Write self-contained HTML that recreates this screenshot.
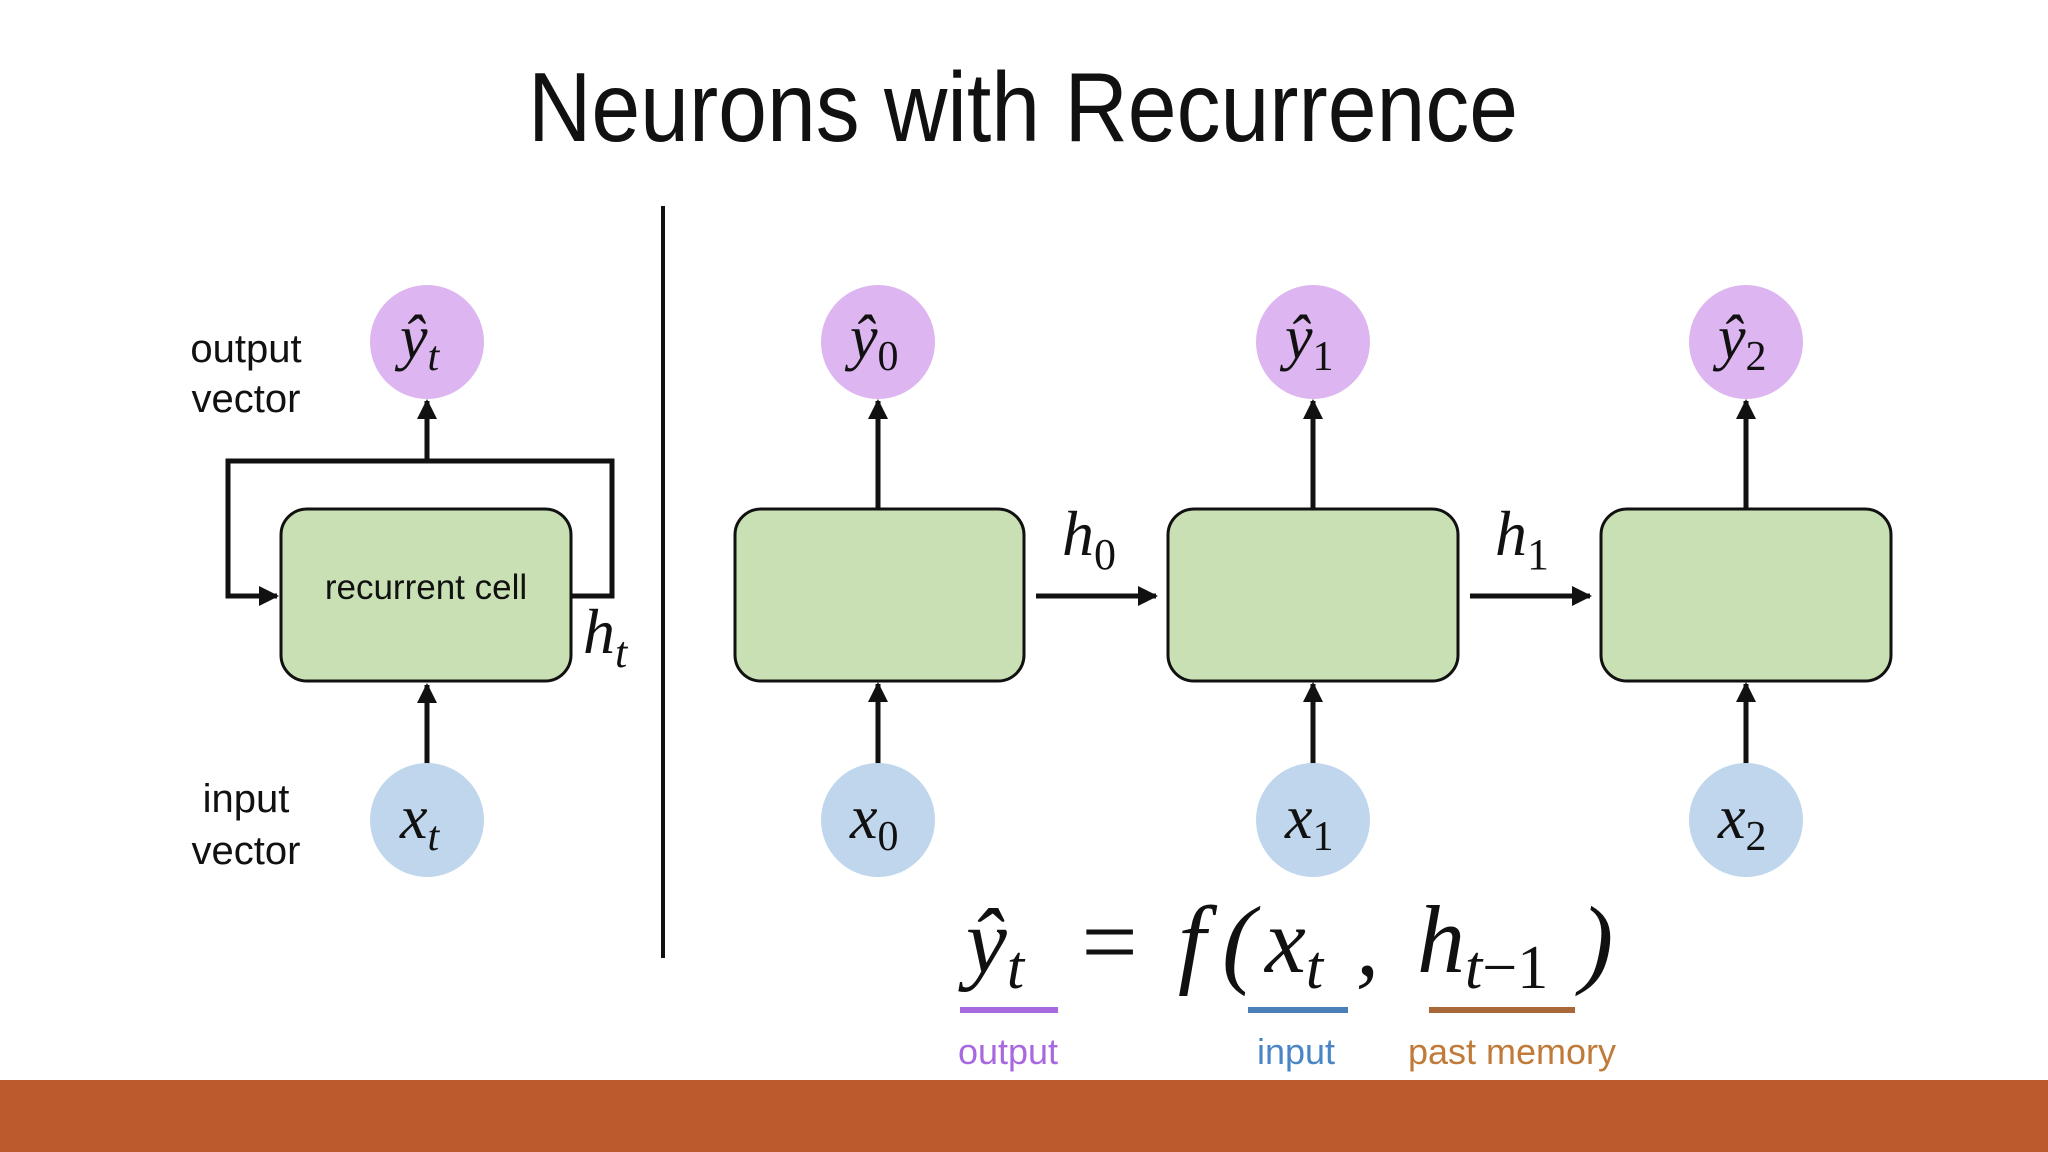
<!DOCTYPE html>
<html><head><meta charset="utf-8"><style>
html,body{margin:0;padding:0;background:#fff;}
svg{display:block;}
.m{font-family:"Liberation Serif",serif;font-style:italic;fill:#111;}
.s{font-family:"Liberation Sans",sans-serif;fill:#111;}
</style></head><body>
<svg width="2048" height="1152" viewBox="0 0 2048 1152" xmlns="http://www.w3.org/2000/svg">
<defs>
<marker id="b" viewBox="0 0 10 10" refX="9" refY="5" markerWidth="4" markerHeight="4" orient="auto"><path d="M0,0 L10,5 L0,10 z" fill="#111"/></marker>
</defs>
<rect width="2048" height="1152" fill="#fff"/>
<rect x="0" y="1080" width="2048" height="72" fill="#BC5A2E"/>
<text x="1023" y="141" text-anchor="middle" class="s" font-size="98" textLength="990" lengthAdjust="spacingAndGlyphs">Neurons with Recurrence</text>
<line x1="663" y1="206" x2="663" y2="958" stroke="#111" stroke-width="4"/>

<!-- left -->
<text x="246" y="362" text-anchor="middle" class="s" font-size="40">output</text>
<text x="246" y="412" text-anchor="middle" class="s" font-size="40">vector</text>
<text x="246" y="812" text-anchor="middle" class="s" font-size="40">input</text>
<text x="246" y="864" text-anchor="middle" class="s" font-size="40">vector</text>
<path d="M572,596 H612 V461 H228 V596 H277" fill="none" stroke="#111" stroke-width="5" marker-end="url(#b)"/>
<line x1="427" y1="463" x2="427" y2="401" stroke="#111" stroke-width="5" marker-end="url(#b)"/>
<line x1="427" y1="765" x2="427" y2="685" stroke="#111" stroke-width="5" marker-end="url(#b)"/>
<rect x="281" y="509" width="290" height="172" rx="26" fill="#C9E0B5" stroke="#111" stroke-width="3"/>
<text x="426" y="599" text-anchor="middle" class="s" font-size="35">recurrent cell</text>
<text x="583" y="653" class="m" font-size="64">h<tspan font-size="44" dy="14">t</tspan></text>
<circle cx="427" cy="342" r="57" fill="#DDB5F0"/>
<circle cx="427" cy="820" r="57" fill="#BFD6EC"/>
<text x="400" y="358" class="m" font-size="62">ŷ<tspan font-size="42" dy="12">t</tspan></text>
<text x="400" y="838" class="m" font-size="62">x<tspan font-size="42" dy="12">t</tspan></text>

<!-- right chain -->
<g stroke="#111" stroke-width="5">
<line x1="878" y1="509" x2="878" y2="401" marker-end="url(#b)"/>
<line x1="1313" y1="509" x2="1313" y2="401" marker-end="url(#b)"/>
<line x1="1746" y1="509" x2="1746" y2="401" marker-end="url(#b)"/>
<line x1="878" y1="765" x2="878" y2="684" marker-end="url(#b)"/>
<line x1="1313" y1="765" x2="1313" y2="684" marker-end="url(#b)"/>
<line x1="1746" y1="765" x2="1746" y2="684" marker-end="url(#b)"/>
<line x1="1036" y1="596" x2="1156" y2="596" marker-end="url(#b)"/>
<line x1="1470" y1="596" x2="1590" y2="596" marker-end="url(#b)"/>
</g>
<rect x="735" y="509" width="289" height="172" rx="26" fill="#C9E0B5" stroke="#111" stroke-width="3"/>
<rect x="1168" y="509" width="290" height="172" rx="26" fill="#C9E0B5" stroke="#111" stroke-width="3"/>
<rect x="1601" y="509" width="290" height="172" rx="26" fill="#C9E0B5" stroke="#111" stroke-width="3"/>
<text x="1062" y="555" class="m" font-size="64">h<tspan font-style="normal" font-size="44" dy="14">0</tspan></text>
<text x="1495" y="555" class="m" font-size="64">h<tspan font-style="normal" font-size="44" dy="14">1</tspan></text>
<circle cx="878" cy="342" r="57" fill="#DDB5F0"/>
<circle cx="1313" cy="342" r="57" fill="#DDB5F0"/>
<circle cx="1746" cy="342" r="57" fill="#DDB5F0"/>
<circle cx="878" cy="820" r="57" fill="#BFD6EC"/>
<circle cx="1313" cy="820" r="57" fill="#BFD6EC"/>
<circle cx="1746" cy="820" r="57" fill="#BFD6EC"/>
<text x="850" y="358" class="m" font-size="62">ŷ<tspan font-style="normal" font-size="42" dy="12">0</tspan></text>
<text x="1285" y="358" class="m" font-size="62">ŷ<tspan font-style="normal" font-size="42" dy="12">1</tspan></text>
<text x="1718" y="358" class="m" font-size="62">ŷ<tspan font-style="normal" font-size="42" dy="12">2</tspan></text>
<text x="850" y="838" class="m" font-size="62">x<tspan font-style="normal" font-size="42" dy="12">0</tspan></text>
<text x="1285" y="838" class="m" font-size="62">x<tspan font-style="normal" font-size="42" dy="12">1</tspan></text>
<text x="1718" y="838" class="m" font-size="62">x<tspan font-style="normal" font-size="42" dy="12">2</tspan></text>

<!-- equation -->
<text x="966" y="972" class="m" font-size="92">ŷ<tspan font-size="62" dy="16">t</tspan></text>
<text x="1075" y="975" class="m" font-size="100" font-style="normal">=</text>
<text x="1178" y="975" class="m" font-size="100">f</text>
<text x="1222" y="975" class="m" font-size="100" font-style="normal">(</text>
<text x="1265" y="972" class="m" font-size="92">x<tspan font-size="62" dy="16">t</tspan></text>
<text x="1356" y="975" class="m" font-size="92" font-style="normal">,</text>
<text x="1417" y="972" class="m" font-size="96">h<tspan font-size="62" dy="16">t</tspan><tspan font-style="normal" font-size="62">−1</tspan></text>
<text x="1580" y="975" class="m" font-size="100" font-style="normal">)</text>
<rect x="960" y="1007" width="98" height="6" fill="#A868E0"/>
<rect x="1248" y="1007" width="100" height="6" fill="#4A7FB8"/>
<rect x="1429" y="1007" width="146" height="6" fill="#A8683A"/>
<text x="1008" y="1064" text-anchor="middle" class="s" font-size="36" style="fill:#A868E0">output</text>
<text x="1296" y="1064" text-anchor="middle" class="s" font-size="36" style="fill:#4A86C5">input</text>
<text x="1512" y="1064" text-anchor="middle" class="s" font-size="36" style="fill:#C07A3A">past memory</text>
</svg>
</body></html>
